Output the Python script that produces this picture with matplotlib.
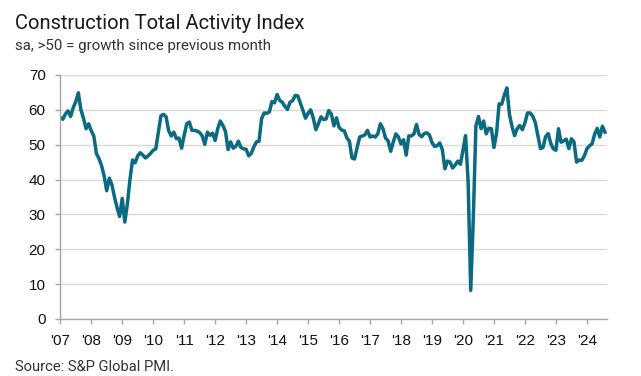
import numpy as np
import matplotlib
matplotlib.use("Agg")
import matplotlib.pyplot as plt

# Monthly index values, Jan 2007 - Aug 2024
v2007 = [57.8, 57.3, 58.8, 59.7, 58.1, 60.6, 62.3, 64.9, 60.0, 57.6, 54.6, 56.0]
v2008 = [54.0, 52.5, 47.5, 46.0, 44.0, 41.0, 36.8, 40.4, 38.5, 35.0, 32.0, 29.4]
v2009 = [34.6, 27.8, 33.0, 40.0, 45.6, 44.8, 46.8, 47.7, 47.0, 46.2, 46.8, 47.5]
v2010 = [48.4, 48.8, 53.6, 58.3, 58.7, 58.0, 54.0, 52.5, 53.6, 51.7, 51.9, 49.0]
v2011 = [52.7, 56.0, 56.5, 54.1, 54.1, 53.9, 53.5, 52.5, 50.1, 53.6, 52.7, 53.3]
v2012 = [51.2, 54.6, 56.8, 55.5, 53.8, 48.6, 50.8, 49.0, 49.5, 51.0, 49.2, 48.8]
v2013 = [48.7, 46.8, 47.5, 49.4, 50.8, 51.0, 57.5, 59.1, 59.0, 59.4, 62.4, 62.0]
v2014 = [64.4, 62.7, 62.2, 61.0, 60.1, 62.2, 62.6, 64.1, 64.0, 62.0, 59.8, 57.6]
v2015 = [59.0, 60.0, 57.7, 54.3, 56.0, 58.0, 57.2, 57.4, 59.8, 58.8, 55.4, 57.7]
v2016 = [55.0, 54.2, 54.0, 52.0, 51.0, 46.2, 45.9, 49.2, 52.2, 52.5, 52.8, 54.1]
v2017 = [52.2, 52.5, 52.2, 53.1, 56.0, 54.6, 51.9, 51.1, 48.1, 50.8, 53.1, 52.2]
v2018 = [50.2, 51.4, 47.0, 52.5, 52.5, 53.1, 55.8, 52.9, 52.3, 53.2, 53.4, 52.8]
v2019 = [50.6, 49.5, 49.7, 50.5, 48.6, 43.1, 45.3, 45.0, 43.3, 44.2, 45.3, 44.4]
v2020 = [48.4, 52.6, 39.3, 8.2, 28.9, 55.3, 58.1, 54.6, 56.8, 53.1, 54.7, 54.6]
v2021 = [49.2, 53.3, 61.7, 61.6, 64.2, 66.3, 58.7, 55.2, 52.6, 54.6, 55.5, 54.3]
v2022 = [56.3, 59.1, 59.1, 58.2, 56.4, 52.6, 48.9, 49.2, 52.3, 53.2, 50.4, 48.8]
v2023 = [48.4, 54.6, 50.7, 51.1, 51.6, 48.9, 51.7, 50.8, 45.0, 45.6, 45.5, 46.8]
v2024 = [48.8, 49.7, 50.2, 53.0, 54.7, 52.2, 55.3, 53.6]

values = (v2007 + v2008 + v2009 + v2010 + v2011 + v2012 + v2013 + v2014 + v2015
          + v2016 + v2017 + v2018 + v2019 + v2020 + v2021 + v2022 + v2023 + v2024)
years = list(range(2007, 2025))
year_labels = ["'" + str(y)[2:] for y in years]

x = 2007 + np.arange(len(values)) / 12.0

fig = plt.figure(figsize=(6.41, 3.76), dpi=100)
ax = fig.add_axes([0.094, 0.1516, 0.853, 0.649])

ax.plot(x, values, color="#0a6a82", linewidth=2.5, solid_joinstyle="round")

ax.set_ylim(0, 70)
ax.set_yticks(range(0, 71, 10))
ax.set_xlim(2007, 2024.65)
ax.set_xticks(years)
ax.set_xticklabels(year_labels)

ax.grid(axis="y", color="#d9d9d9", linewidth=1)
ax.set_axisbelow(True)
for s in ["top", "right"]:
    ax.spines[s].set_visible(False)
for s in ["left", "bottom"]:
    ax.spines[s].set_color("#a6a6a6")
    ax.spines[s].set_linewidth(1)
ax.tick_params(axis="both", colors="#a6a6a6", length=3.5, width=1,
               labelcolor="#111111", labelsize=11)
ax.tick_params(axis="y", pad=7)
ax.tick_params(axis="x", pad=7)
for lab in ax.get_xticklabels() + ax.get_yticklabels():
    lab.set_family("Liberation Sans")

fig.text(0.0234, 0.922, "Construction Total Activity Index", fontsize=14.5,
         family="Roboto", color="#1a1a1a", va="baseline")
fig.text(0.0234, 0.867, "sa, >50 = growth since previous month", fontsize=10.8,
         family="Roboto", color="#333333", va="baseline")
fig.text(0.0234, 0.012, "Source: S&P Global PMI.", fontsize=10.6,
         family="Roboto", color="#333333", va="baseline")

plt.savefig("out.png", dpi=100)
plt.close()
